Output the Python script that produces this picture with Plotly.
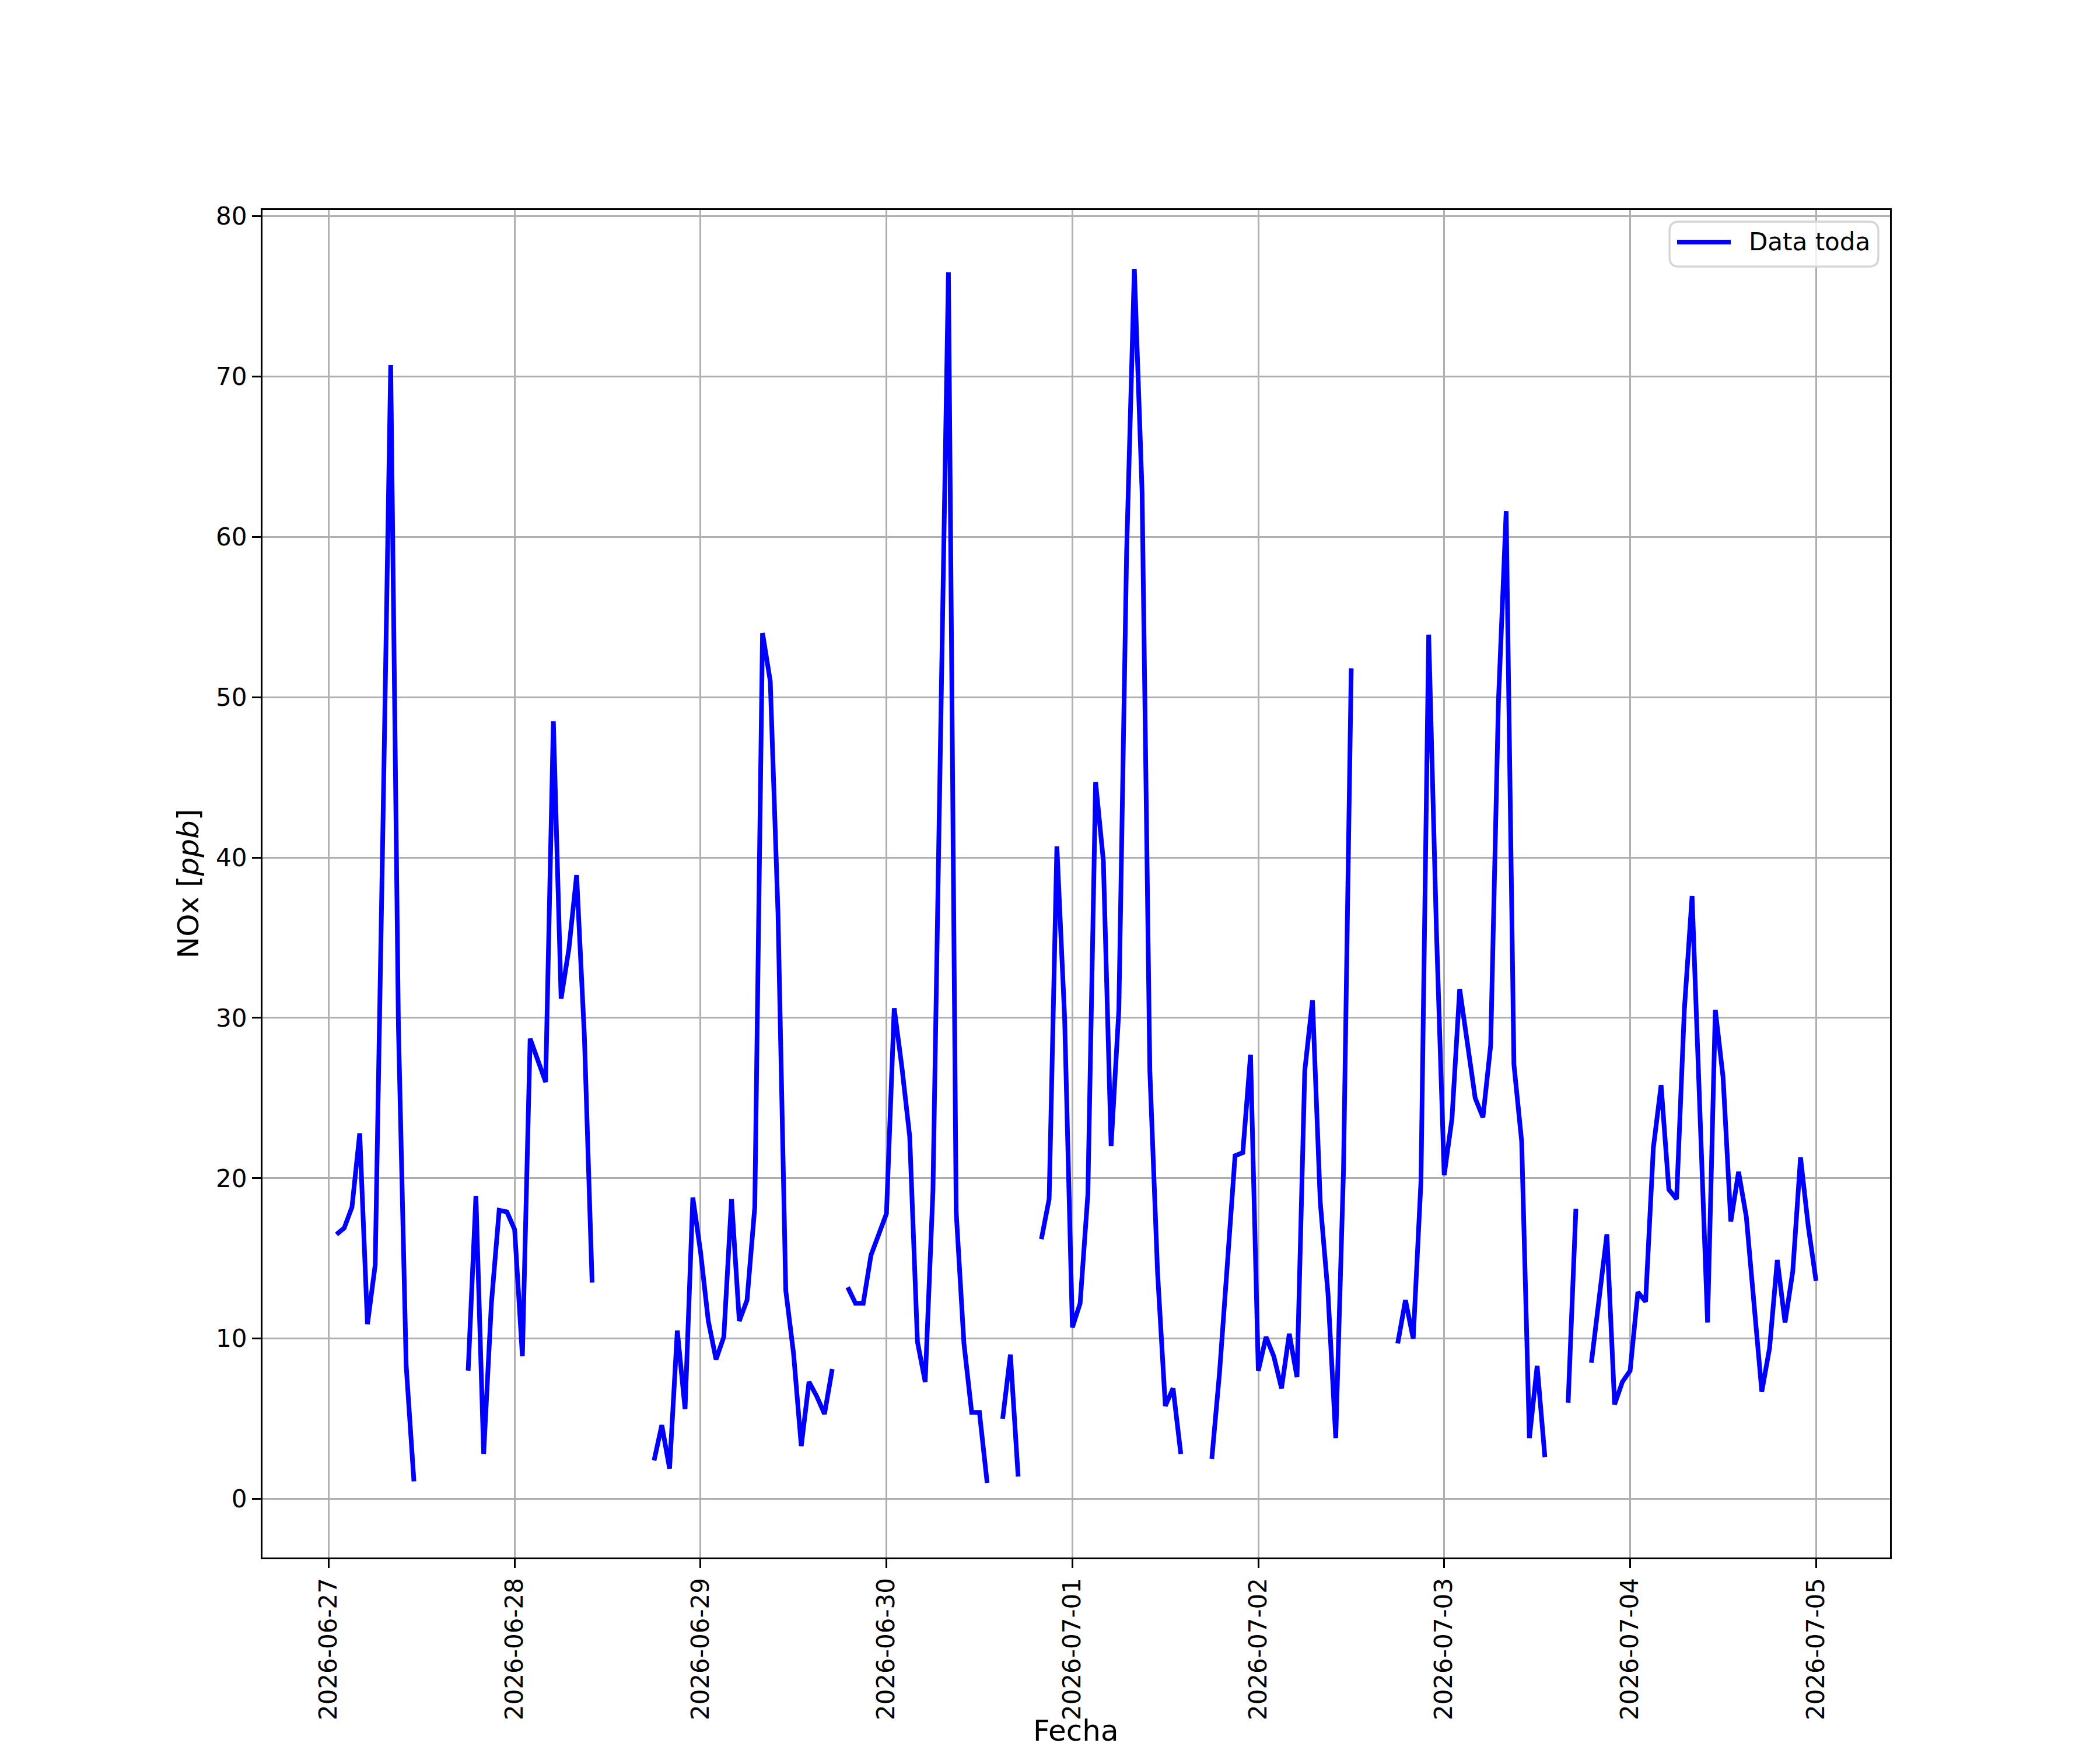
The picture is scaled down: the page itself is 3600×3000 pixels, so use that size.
import pandas as pd
import plotly.graph_objects as go

# Hourly NOx values (ppb); None = missing hour. Each list starts at 00:00 of the day.
nox_0627 = [None, 16.5, 16.9, 18.2, 22.8, 10.9, 14.6, 42.0, 70.7, 29.4, 8.3, 1.1,
            None, None, None, None, None, None, 8.0, 18.9, 2.8, 12.2, 18.0, 17.9]
nox_0628 = [16.8, 8.9, 28.7, 27.3, 26.0, 48.5, 31.2, 34.3, 38.9, 28.9, 13.5, None,
            None, None, None, None, None, None, 2.4, 4.6, 1.9, 10.5, 5.6, 18.8]
nox_0629 = [15.4, 11.1, 8.7, 10.1, 18.7, 11.1, 12.4, 18.2, 54.0, 51.0, 36.5, 13.0,
            9.1, 3.3, 7.3, 6.4, 5.3, 8.1, None, 13.2, 12.2, 12.2, 15.2, 16.5]
nox_0630 = [17.8, 30.6, 26.9, 22.6, 9.8, 7.3, 19.2, 48.0, 76.5, 17.9, 9.7, 5.4,
            5.4, 1.0, None, 5.0, 9.0, 1.4, None, None, 16.2, 18.7, 40.7, 30.0]
nox_0701 = [10.7, 12.2, 19.0, 44.7, 39.8, 22.0, 30.5, 59.0, 76.7, 62.8, 26.7, 14.1,
            5.8, 6.9, 2.8, None, None, None, 2.5, 7.9, 14.6, 21.4, 21.6, 27.7]
nox_0702 = [8.0, 10.1, 8.9, 6.9, 10.3, 7.6, 26.7, 31.1, 18.5, 12.8, 3.8, 20.5,
            51.8, None, None, None, None, None, 9.7, 12.4, 10.0, 19.8, 53.9, 35.4]
nox_0703 = [20.2, 23.7, 31.8, 28.3, 25.0, 23.8, 28.3, 49.7, 61.6, 27.1, 22.3, 3.8,
            8.3, 2.6, None, None, 6.0, 18.1, None, 8.5, 12.4, 16.5, 5.9, 7.3]
nox_0704 = [8.0, 12.9, 12.3, 21.9, 25.8, 19.3, 18.7, 30.5, 37.6, 25.0, 11.0, 30.5,
            26.3, 17.3, 20.4, 17.6, 12.3, 6.7, 9.4, 14.9, 11.0, 14.2, 21.3, 17.0]
nox_0705 = [13.6]

start_time = "2026-06-27 00:00"
tick_labels = ["2026-06-27", "2026-06-28", "2026-06-29", "2026-06-30", "2026-07-01",
               "2026-07-02", "2026-07-03", "2026-07-04", "2026-07-05"]
series_name = "Data toda"

values = (nox_0627 + nox_0628 + nox_0629 + nox_0630 + nox_0701 +
          nox_0702 + nox_0703 + nox_0704 + nox_0705)
times = pd.date_range(start=start_time, periods=len(values), freq="h")

W, H = 3600, 3000
LW = 3.33
FONT = "DejaVu Sans"
BLUE = "#0000ff"

fig = go.Figure()
fig.add_trace(go.Scatter(
    x=times, y=values, mode="lines", name=series_name,
    line=dict(color=BLUE, width=8), connectgaps=False, showlegend=False,
))

axis_common = dict(
    showgrid=True, gridcolor="#b0b0b0", gridwidth=LW,
    showline=True, linecolor="black", linewidth=LW, mirror=True,
    ticks="outside", ticklen=15, tickwidth=LW, tickcolor="black",
    zeroline=False, automargin=False,
    tickfont=dict(family=FONT, size=42, color="black"),
)

# ---- legend (matplotlib-style, upper right) ----
lx0, lx1 = 2862 / W, 3220 / W
ly1, ly0 = 1 - 380 / H, 1 - 457 / H
rx, ry = 16 / W, 16 / H
legend_box = (
    f"M {lx0 + rx},{ly1} L {lx1 - rx},{ly1} Q {lx1},{ly1} {lx1},{ly1 - ry} "
    f"L {lx1},{ly0 + ry} Q {lx1},{ly0} {lx1 - rx},{ly0} "
    f"L {lx0 + rx},{ly0} Q {lx0},{ly0} {lx0},{ly0 + ry} "
    f"L {lx0},{ly1 - ry} Q {lx0},{ly1} {lx0 + rx},{ly1} Z"
)
ly_mid = 1 - 415 / H
shapes = [
    dict(type="path", xref="paper", yref="paper", path=legend_box,
         fillcolor="rgba(255,255,255,0.8)", line=dict(color="#d5d5d5", width=LW),
         layer="above"),
    dict(type="line", xref="paper", yref="paper",
         x0=2875 / W, x1=2967 / W, y0=ly_mid, y1=ly_mid,
         line=dict(color=BLUE, width=8), layer="above"),
]
annotations = [
    dict(xref="paper", yref="paper", x=2996 / W, y=ly_mid, xanchor="left", yanchor="middle",
         text=series_name, showarrow=False,
         font=dict(family=FONT, size=42, color="black")),
    # x-axis label, placed like matplotlib's (just below the rotated tick labels)
    dict(xref="paper", yref="paper", x=(0.125 + 0.9) / 2, y=0.001, xanchor="center",
         yanchor="bottom", yshift=0, borderpad=0, text="Fecha", showarrow=False,
         font=dict(family=FONT, size=50, color="black")),
]

fig.update_layout(
    width=W, height=H,
    margin=dict(l=0, r=0, t=0, b=0, pad=0),
    paper_bgcolor="white", plot_bgcolor="white",
    font=dict(family=FONT, color="black"),
    xaxis=dict(
        domain=[0.125, 0.9],
        type="date",
        range=["2026-06-26 15:27", "2026-07-05 09:33"],
        tickvals=tick_labels, ticktext=tick_labels,
        tickangle=-90,
        **axis_common,
    ),
    yaxis=dict(
        domain=[0.11, 0.88],
        range=[-3.65, 80.38],
        tick0=0, dtick=10,
        title=dict(text="NOx [<i>ppb</i>]", font=dict(family=FONT, size=50, color="black"), standoff=14),
        **axis_common,
    ),
    showlegend=False,
    shapes=shapes,
    annotations=annotations,
)

fig.write_html("out.html", include_plotlyjs=True, full_html=True,
               config={"displayModeBar": False},
               post_script="document.body.style.margin='0';")
